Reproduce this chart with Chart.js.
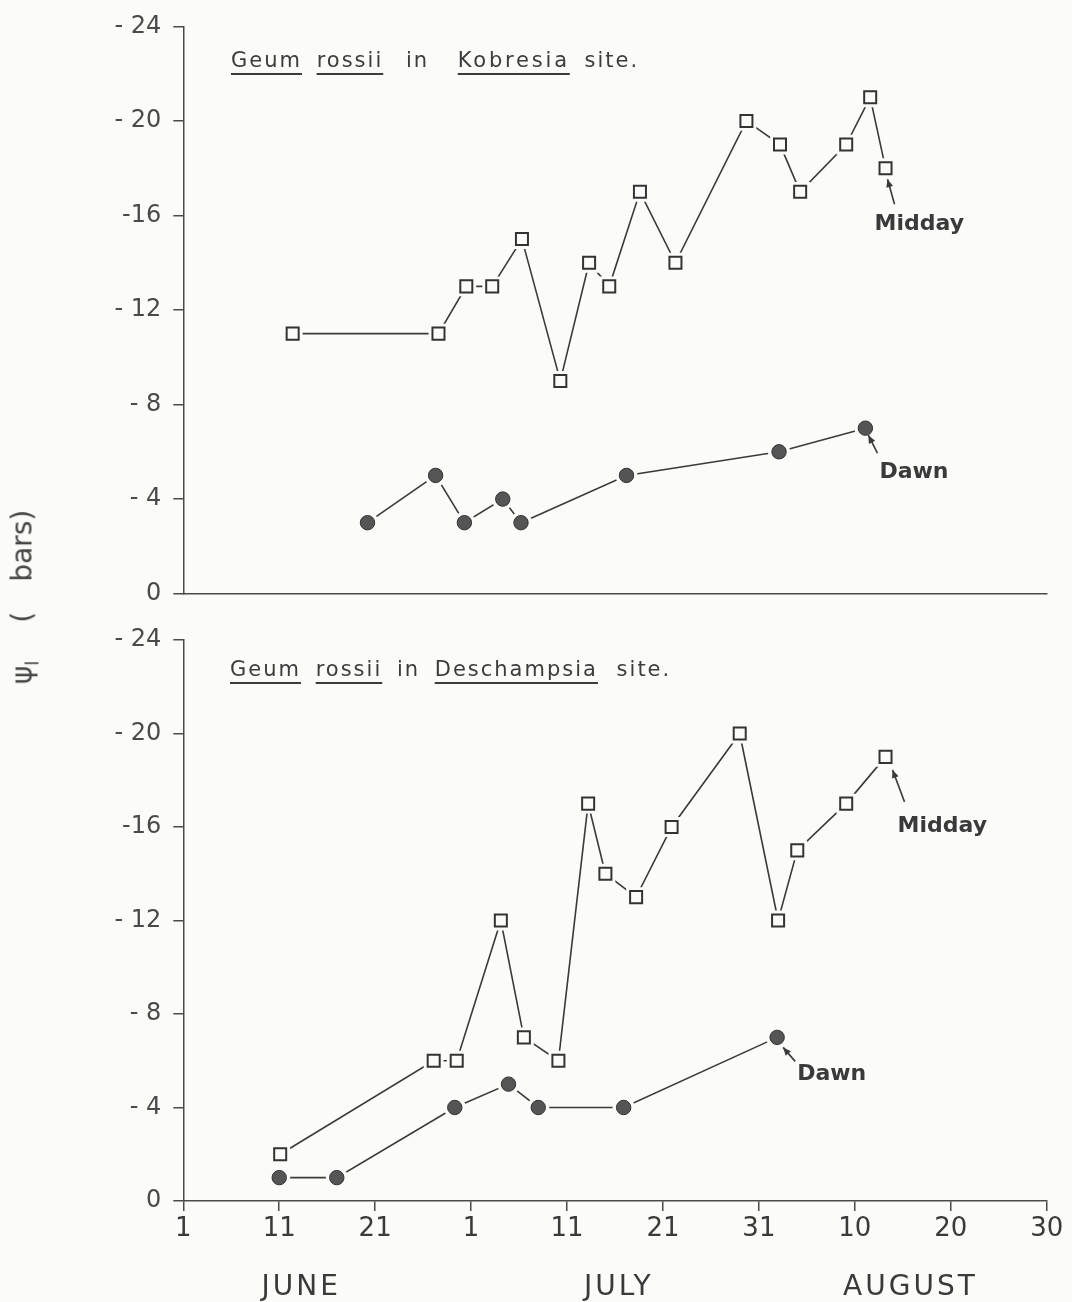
<!DOCTYPE html>
<html>
<head>
<meta charset="utf-8">
<script src="https://cdn.jsdelivr.net/npm/chart.js@4.4.1/dist/chart.umd.min.js"></script>
<style>
  html, body { margin: 0; padding: 0; background: #fbfbf9; }
  #page { position: relative; width: 1072px; height: 1302px; overflow: hidden;
          font-family: "DejaVu Sans", sans-serif; color: #3c3c3c; }
  #topChart { position: absolute; left: 0; top: 0; }
  #botChart { position: absolute; left: 0; top: 610px; }
  .title { position: absolute; font-size: 21px; line-height: normal; white-space: pre;
           letter-spacing: 2px; word-spacing: 6px; }
  .title u { text-decoration-thickness: 2px; text-underline-offset: 6px; }
  #ylab { position: absolute; left: 24px; top: 597px; font-size: 28px; white-space: pre;
          transform: translate(-50%, -50%) rotate(-90deg); color: #444; }
  #ylab sub { font-size: 18px; vertical-align: -7px; }
</style>
</head>
<body>
<div id="page">
  <canvas id="topChart" width="1072" height="620"></canvas>
  <canvas id="botChart" width="1072" height="692"></canvas>
  <div class="title" style="left:231px; top:48px;"><u>Geum</u> <u>rossii</u> <span style="margin-left:8px">in</span> <span style="margin-left:14px"></span><u style="letter-spacing:2.8px">Kobresia</u> site.</div>
  <div class="title" style="left:230px; top:657px; word-spacing:6px;"><u>Geum</u> <u>rossii</u> in <u>Deschampsia</u> <span style="margin-left:4px">site.</span></div>
  <div id="ylab">ψ<sub>l</sub><span style="margin-left:38px">(</span><span style="margin-left:30px">bars)</span></div>
</div>
<script>
// x = day counted from 1 June (1 July = 31, 1 Aug = 62)
const xTickDays   = [1, 11, 21, 31, 41, 51, 61, 71, 81, 91];
const xTickLabels = ['1', '11', '21', '1', '11', '21', '31', '10', '20', '30'];
const monthNames   = ['JUNE', 'JULY', 'AUGUST'];
const monthMidDays = [13.3, 46.4, 76.8];

const yTickValues = [0, 4, 8, 12, 16, 20, 24];
const yTickLabels = ['0', '- 4', '- 8', '- 12', '-16', '- 20', '- 24'];

// Kobresia site (leaf water potential, -bars)
const topMiddayDays = [12.4, 27.6, 30.5, 33.2, 36.3, 40.3, 43.3, 45.4, 48.6, 52.3, 59.7, 63.2, 65.3, 70.1, 72.6, 74.2];
const topMidday     = [11, 11, 13, 13, 15, 9, 14, 13, 17, 14, 20, 19, 17, 19, 21, 18];
const topDawnDays   = [20.2, 27.3, 30.3, 34.3, 36.2, 47.2, 63.1, 72.1];
const topDawn       = [3, 5, 3, 4, 3, 5, 6, 7];

// Deschampsia site
const botMiddayDays = [11.1, 27.1, 29.5, 34.1, 36.5, 40.1, 43.2, 45.0, 48.2, 51.9, 59.0, 63.0, 65.0, 70.1, 74.2];
const botMidday     = [2, 6, 6, 12, 7, 6, 17, 14, 13, 16, 20, 12, 15, 17, 19];
const botDawnDays   = [11.0, 17.0, 29.3, 34.9, 38.0, 46.9, 62.9];
const botDawn       = [1, 1, 4, 5, 4, 4, 7];

const FONT = '"DejaVu Sans", sans-serif';
const INK = '#3a3a3a';
const AXIS = '#4a4a4a';
const BG = '#fbfbf9';
const PLOT_LEFT = 183.3;
const PLOT_RIGHT_PAD = 25.3;

function seriesSets(days, vals, kind) {
  const pts = days.map((d, i) => ({ x: d, y: vals[i] }));
  const square = kind === 'square';
  return [
    { data: pts, showLine: true, borderColor: INK, borderWidth: 1.6, pointRadius: 0, order: 3 },
    { data: pts, showLine: false, pointStyle: square ? 'rect' : 'circle',
      pointRadius: square ? 14 : 11, pointBackgroundColor: BG, pointBorderWidth: 0, order: 2 },
    { data: pts, showLine: false, pointStyle: square ? 'rect' : 'circle',
      pointRadius: square ? 8.5 : 7.2,
      pointBackgroundColor: square ? BG : '#555',
      pointBorderColor: '#333', pointBorderWidth: square ? 2 : 1, order: 1 }
  ];
}

// labels with small arrows pointing at a point
const notesPlugin = {
  id: 'notes',
  afterDatasetsDraw(chart, args, opts) {
    const { ctx } = chart;
    const x = chart.scales.x, y = chart.scales.y;
    ctx.save();
    ctx.strokeStyle = INK;
    ctx.fillStyle = INK;
    ctx.lineWidth = 1.6;
    (opts.items || []).forEach(n => {
      const px = x.getPixelForValue(n.day), py = y.getPixelForValue(n.value);
      const tx = px + n.tip[0], ty = py + n.tip[1];
      const sx = px + n.tail[0], sy = py + n.tail[1];
      ctx.beginPath();
      ctx.moveTo(sx, sy);
      ctx.lineTo(tx, ty);
      ctx.stroke();
      const a = Math.atan2(ty - sy, tx - sx);
      ctx.beginPath();
      ctx.moveTo(tx, ty);
      ctx.lineTo(tx - 8 * Math.cos(a) + 3.5 * Math.sin(a), ty - 8 * Math.sin(a) - 3.5 * Math.cos(a));
      ctx.lineTo(tx - 8 * Math.cos(a) - 3.5 * Math.sin(a), ty - 8 * Math.sin(a) + 3.5 * Math.cos(a));
      ctx.closePath();
      ctx.fill();
      ctx.font = 'bold 22px ' + FONT;
      ctx.textBaseline = 'alphabetic';
      ctx.textAlign = 'left';
      ctx.fillText(n.text, px + n.label[0], py + n.label[1]);
    });
    ctx.restore();
  }
};

const monthsPlugin = {
  id: 'months',
  afterDraw(chart, args, opts) {
    if (!opts.show) return;
    const { ctx, chartArea } = chart;
    const x = chart.scales.x;
    ctx.save();
    ctx.font = '28px ' + FONT;
    ctx.fillStyle = INK;
    ctx.letterSpacing = '3px';
    ctx.textAlign = 'center';
    ctx.textBaseline = 'alphabetic';
    monthNames.forEach((m, i) => {
      ctx.fillText(m, x.getPixelForValue(monthMidDays[i]), chartArea.bottom + 94);
    });
    ctx.restore();
  }
};

function makeChart(id, sets, opt) {
  return new Chart(document.getElementById(id), {
    type: 'scatter',
    data: { datasets: sets },
    plugins: [notesPlugin, monthsPlugin],
    options: {
      responsive: false,
      animation: false,
      devicePixelRatio: 1,
      layout: { padding: { top: opt.top, right: PLOT_RIGHT_PAD, left: 0, bottom: 0 } },
      plugins: {
        legend: { display: false },
        tooltip: { enabled: false },
        notes: { items: opt.notes },
        months: { show: opt.months }
      },
      elements: { line: { tension: 0 } },
      scales: {
        x: {
          type: 'linear', min: 1, max: 91,
          afterBuildTicks: s => { s.ticks = xTickDays.map(v => ({ value: v })); },
          ticks: {
            display: opt.xLabels,
            callback: (v, i) => xTickLabels[i],
            font: { family: FONT, size: 26 }, color: INK, padding: 3, maxRotation: 0, autoSkip: false
          },
          grid: { display: opt.xLabels, drawOnChartArea: false, drawTicks: opt.xLabels,
                  tickLength: 10, color: AXIS, lineWidth: 1.5 },
          border: { display: true, color: AXIS, width: 1.5 },
          afterFit: s => { s.height = opt.xHeight; }
        },
        y: {
          min: 0, max: 24,
          afterBuildTicks: s => { s.ticks = yTickValues.map(v => ({ value: v })); },
          ticks: {
            callback: v => yTickLabels[yTickValues.indexOf(v)],
            font: { family: FONT, size: 24 }, color: '#4a4a4a', padding: 12
          },
          grid: { drawOnChartArea: false, drawTicks: true, tickLength: 10, color: AXIS, lineWidth: 1.5 },
          border: { color: AXIS, width: 1.5 },
          afterFit: s => { s.width = PLOT_LEFT; }
        }
      }
    }
  });
}

makeChart('topChart',
  [...seriesSets(topMiddayDays, topMidday, 'square'), ...seriesSets(topDawnDays, topDawn, 'circle')],
  {
    top: 19, xHeight: 12.3, xLabels: false, months: false,
    notes: [
      { text: 'Midday', day: topMiddayDays.at(-1), value: topMidday.at(-1), tip: [2, 11], tail: [9, 36], label: [-11, 62] },
      { text: 'Dawn', day: topDawnDays.at(-1), value: topDawn.at(-1), tip: [3, 7], tail: [12, 25], label: [14, 50] }
    ]
  });

makeChart('botChart',
  [...seriesSets(botMiddayDays, botMidday, 'square'), ...seriesSets(botDawnDays, botDawn, 'circle')],
  {
    top: 30, xHeight: 101, xLabels: true, months: true,
    notes: [
      { text: 'Midday', day: botMiddayDays.at(-1), value: botMidday.at(-1), tip: [7, 13], tail: [19, 45], label: [12, 75] },
      { text: 'Dawn', day: botDawnDays.at(-1), value: botDawn.at(-1), tip: [6, 10], tail: [18, 24], label: [20, 43] }
    ]
  });
</script>
</body>
</html>
